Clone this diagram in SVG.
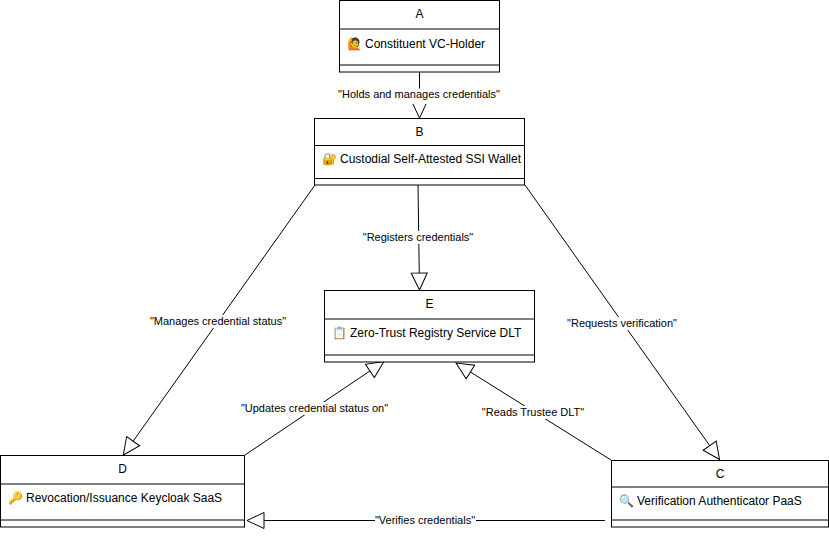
<svg xmlns="http://www.w3.org/2000/svg" width="829" height="539" viewBox="0 0 829 539">
<style>
text{font-family:"Liberation Sans",Arial,sans-serif;fill:#000}
.t{font-size:12px;text-anchor:middle}
.b{font-size:12px}
.l{font-size:11px;text-anchor:middle}
.e{font-size:12px;font-family:"Noto Color Emoji","DejaVu Sans",sans-serif}
rect.n{fill:#fff;stroke:#000;stroke-width:1}
.d{stroke:#000;stroke-width:1;fill:none}
.c{stroke:#000;stroke-width:1;fill:none;marker-end:url(#h)}
.bg{fill:#fff}
</style>
<defs>
<marker id="h" markerUnits="userSpaceOnUse" viewBox="-18 -9 19 18" refX="0" refY="0" markerWidth="19" markerHeight="18" orient="auto">
<path d="M0 0L-17 -8L-17 8Z" fill="#fff" stroke="#000"/>
</marker>
</defs>
<g id="connectors">
<path class="c" d="M419.5 72V118"/>
<path class="c" d="M418 185L419.5 290"/>
<path class="c" d="M315 185L123.3 455"/>
<path class="c" d="M525 185L719.5 459.5"/>
<path class="c" d="M245 455L384 361.5"/>
<path class="c" d="M611 460L456 363"/>
<path class="c" d="M605 520.5H247"/>
<g id="connector-labels">
<rect class="bg" x="338" y="88.500" width="162" height="15.500"/><text class="l" x="419" y="98">"Holds and manages credentials"</text>
<rect class="bg" x="362" y="231" width="112" height="13"/><text class="l" x="418" y="241">"Registers credentials"</text>
<rect class="bg" x="149" y="315" width="139" height="13"/><text class="l" x="218" y="325">"Manages credential status"</text>
<rect class="bg" x="566" y="317" width="112" height="13"/><text class="l" x="622" y="327">"Requests verification"</text>
<rect class="bg" x="240" y="402" width="149" height="13"/><text class="l" x="314.500" y="412">"Updates credential status on"</text>
<rect class="bg" x="481" y="406" width="104" height="13"/><text class="l" x="533" y="416">"Reads Trustee DLT"</text>
<rect class="bg" x="375" y="514" width="101" height="13"/><text class="l" x="425" y="524">"Verifies credentials"</text>
</g>
</g>
<g id="A">
<rect class="n" x="339.500" y="0.500" width="160" height="71.500"/>
<path class="d" d="M339.500 29H499.500M339.500 65H499.500"/>
<text class="t" x="419.500" y="18">A</text>
<text class="e" x="347" y="47.500">🙋</text><text class="b" x="365" y="47.500">Constituent VC-Holder</text>
</g>
<g id="B">
<rect class="n" x="314.500" y="118.500" width="210" height="66.500"/>
<path class="d" d="M314.500 145.500H524.500M314.500 178.500H524.500"/>
<text class="t" x="419.500" y="136">B</text>
<text class="e" x="322" y="163">🔐</text><text class="b" x="340" y="163">Custodial Self-Attested SSI Wallet</text>
</g>
<g id="E">
<rect class="n" x="324.500" y="290.500" width="210" height="71.500"/>
<path class="d" d="M324.500 319H534.500M324.500 355H534.500"/>
<text class="t" x="429.500" y="308">E</text>
<text class="e" x="332" y="337">📋</text><text class="b" x="350" y="337">Zero-Trust Registry Service DLT</text>
</g>
<g id="D">
<rect class="n" x="0.500" y="455.500" width="244" height="71.500"/>
<path class="d" d="M0.500 484H244.500M0.500 520H244.500"/>
<text class="t" x="122.500" y="473">D</text>
<text class="e" x="8" y="502">🔑</text><text class="b" x="26" y="502">Revocation/Issuance Keycloak SaaS</text>
</g>
<g id="C">
<rect class="n" x="611.500" y="460.500" width="217" height="66.500"/>
<path class="d" d="M611.500 487H828.500M611.500 520H828.500"/>
<text class="t" x="720" y="478">C</text>
<text class="e" x="619" y="505">🔍</text><text class="b" x="637" y="505">Verification Authenticator PaaS</text>
</g>
</svg>
